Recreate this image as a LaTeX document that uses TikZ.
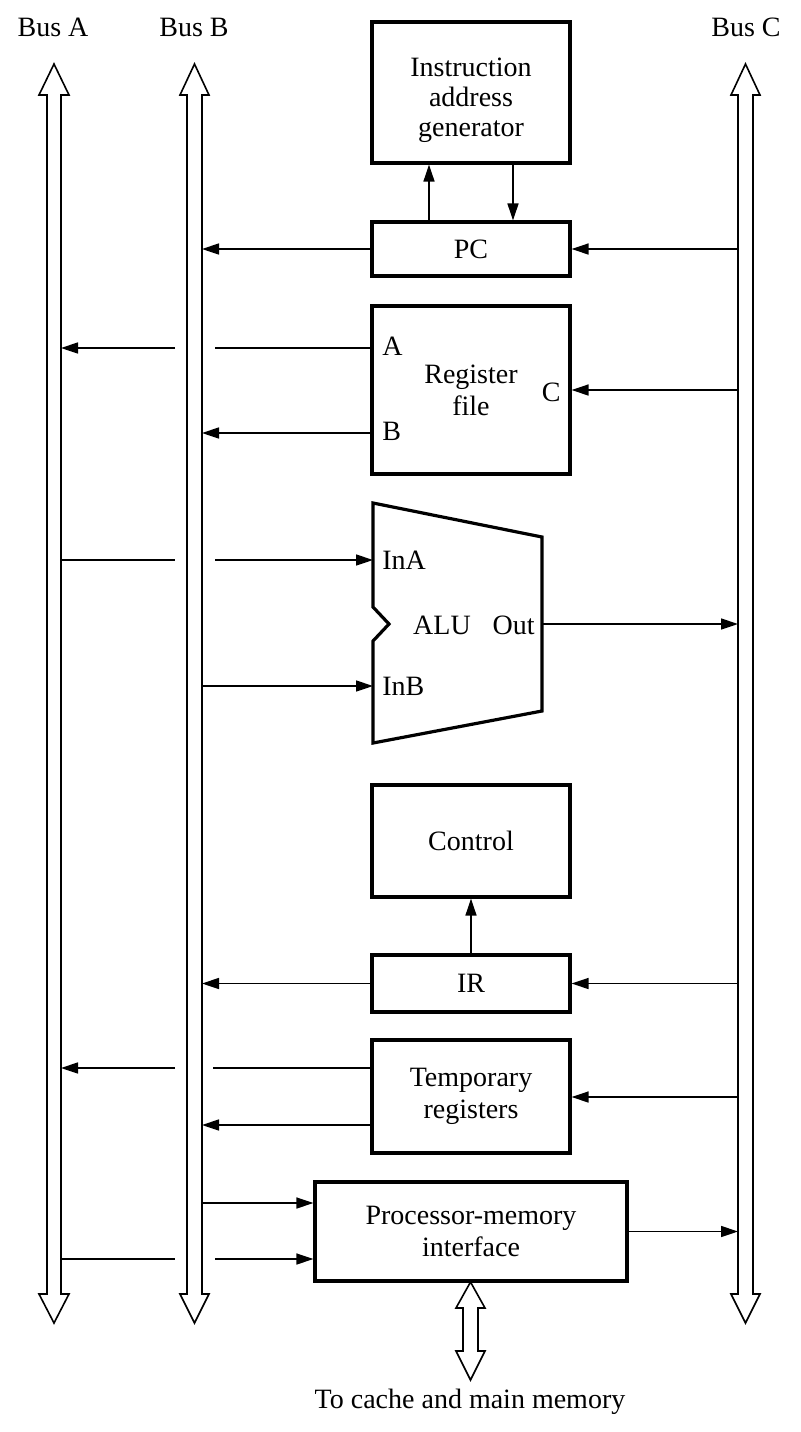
\documentclass[tikz,border=0pt]{standalone}
\usepackage{fontspec}
\setmainfont{Liberation Serif}
\usetikzlibrary{arrows.meta}

% hollow double-headed bus: centre x, shaft half, head half, tip top, base top, base bottom, tip bottom
\newcommand\busline[7]{%
  \draw[bus] (#1,#4) -- (#1+#3,#5) -- (#1+#2,#5) -- (#1+#2,#6) -- (#1+#3,#6)
    -- (#1,#7) -- (#1-#3,#6) -- (#1-#2,#6) -- (#1-#2,#5) -- (#1-#3,#5) -- cycle;}

\tikzset{
  unitbox/.style={draw,line width=1.6pt,minimum width=99pt,align=center,
    font=\fontsize{14}{16}\selectfont,inner sep=0pt},
  bus/.style={line width=0.8pt,line join=miter},
  sig/.style={line width=0.8pt,-{Triangle[length=8.5pt,width=5.5pt]}},
  wire/.style={line width=0.8pt},
  lbl/.style={font=\fontsize{14}{16}\selectfont,inner sep=0pt}
}

\begin{document}
\begin{tikzpicture}[x=0.5pt,y=-0.5pt]
  \useasboundingbox (0,0) rectangle (800,1432);
  % buses
  \busline{54}{7}{15}{64}{95}{1294}{1323}
  \busline{194.5}{7.5}{14.5}{64}{95}{1294}{1323}
  \busline{745.5}{7.5}{14.5}{64}{95}{1294}{1323}
  \busline{470.5}{7.5}{14.5}{1282}{1308}{1351}{1380}
  \coordinate (ar) at (61,0);    % bus A right edge
  \coordinate (br) at (202,0);   % bus B right edge
  \coordinate (cl) at (738,0);   % bus C left edge
  \coordinate (gl) at (175,0);   % gap over bus B
  \coordinate (gr) at (215,0);
  \node[lbl] (busa) at (53,27) {Bus A};
  \node[lbl] (busb) at (194,27) {Bus B};
  \node[lbl] (busc) at (746,27) {Bus C};
  \node[lbl] (mem) at (470,1402) {To cache and main memory};

  % units
  \node[unitbox,minimum height=70.5pt,font=\fontsize{14}{15}\selectfont] (iag) at (471,92.5)
    {\rule{0pt}{17pt}Instruction\\address\\generator};
  \node[unitbox,minimum height=27pt] (pc) at (471,249) {PC};
  \node[unitbox,minimum height=84pt] (rf) at (471,390) {Register\\file};
  \node[lbl,anchor=west] (rfa) at (382,346) {A};
  \node[lbl,anchor=west] (rfb) at (382,431) {B};
  \node[lbl,anchor=east] (rfc) at (561,392) {C};
  \node[unitbox,minimum height=56pt] (ctrl) at (471,841) {Control};
  \node[unitbox,minimum height=28.5pt] (ir) at (471,983.5) {IR};
  \node[unitbox,minimum height=56.5pt] (tmp) at (471,1096.5)
    {Temporary\\registers};
  \node[unitbox,minimum width=156pt,minimum height=49.5pt] (pmi) at (471,1231.5)
    {Processor-memory\\interface};

  % ALU
  \coordinate (ina) at (373,560);
  \coordinate (inb) at (373,686);
  \coordinate (out) at (542,624);
  \draw[line width=1.6pt,line join=miter] (373,503) -- (542,537) -- (542,711)
    -- (373,743) -- (373,641) -- (389,624) -- (373,607) -- cycle;
  \node[lbl] (alu) at (442,625) {ALU};
  \node[lbl,anchor=east] (outl) at (535,625) {Out};
  \node[lbl,anchor=west] (inal) at (382,560) {InA};
  \node[lbl,anchor=west] (inbl) at (382,686) {InB};

  % connections
  \draw[sig] ([xshift=-21pt]pc.north) -- ([xshift=-21pt]iag.south);
  \draw[sig] ([xshift=21pt]iag.south) -- ([xshift=21pt]pc.north);
  \draw[sig] (pc.west) -- (pc.west -| br);
  \draw[sig] (pc.east -| cl) -- (pc.east);

  \draw[wire] (rf.west |- 0,348) -- (gr |- 0,348);
  \draw[sig] (gl |- 0,348) -- (ar |- 0,348);
  \draw[sig] (rf.west |- 0,433) -- (br |- 0,433);
  \draw[sig] (cl |- 0,390) -- (rf.east |- 0,390);

  \draw[wire] (ar |- ina) -- (gl |- ina);
  \draw[sig] (gr |- ina) -- (ina);
  \draw[sig] (br |- inb) -- (inb);
  \draw[sig] (out) -- (cl |- out);

  \draw[sig] (ir.north) -- (ctrl.south);
  \draw[sig] (ir.west) -- (ir.west -| br);
  \draw[sig] (ir.east -| cl) -- (ir.east);

  \draw[wire] (tmp.west |- 0,1068) -- (213,1068);
  \draw[sig] (gl |- 0,1068) -- (ar |- 0,1068);
  \draw[sig] (tmp.west |- 0,1125) -- (br |- 0,1125);
  \draw[sig] (cl |- 0,1097) -- (tmp.east |- 0,1097);

  \draw[sig] (br |- 0,1203) -- (pmi.west |- 0,1203);
  \draw[wire] (ar |- 0,1259) -- (gl |- 0,1259);
  \draw[sig] (gr |- 0,1259) -- (pmi.west |- 0,1259);
  \draw[sig] (pmi.east) -- (pmi.east -| cl);
\end{tikzpicture}
\end{document}
